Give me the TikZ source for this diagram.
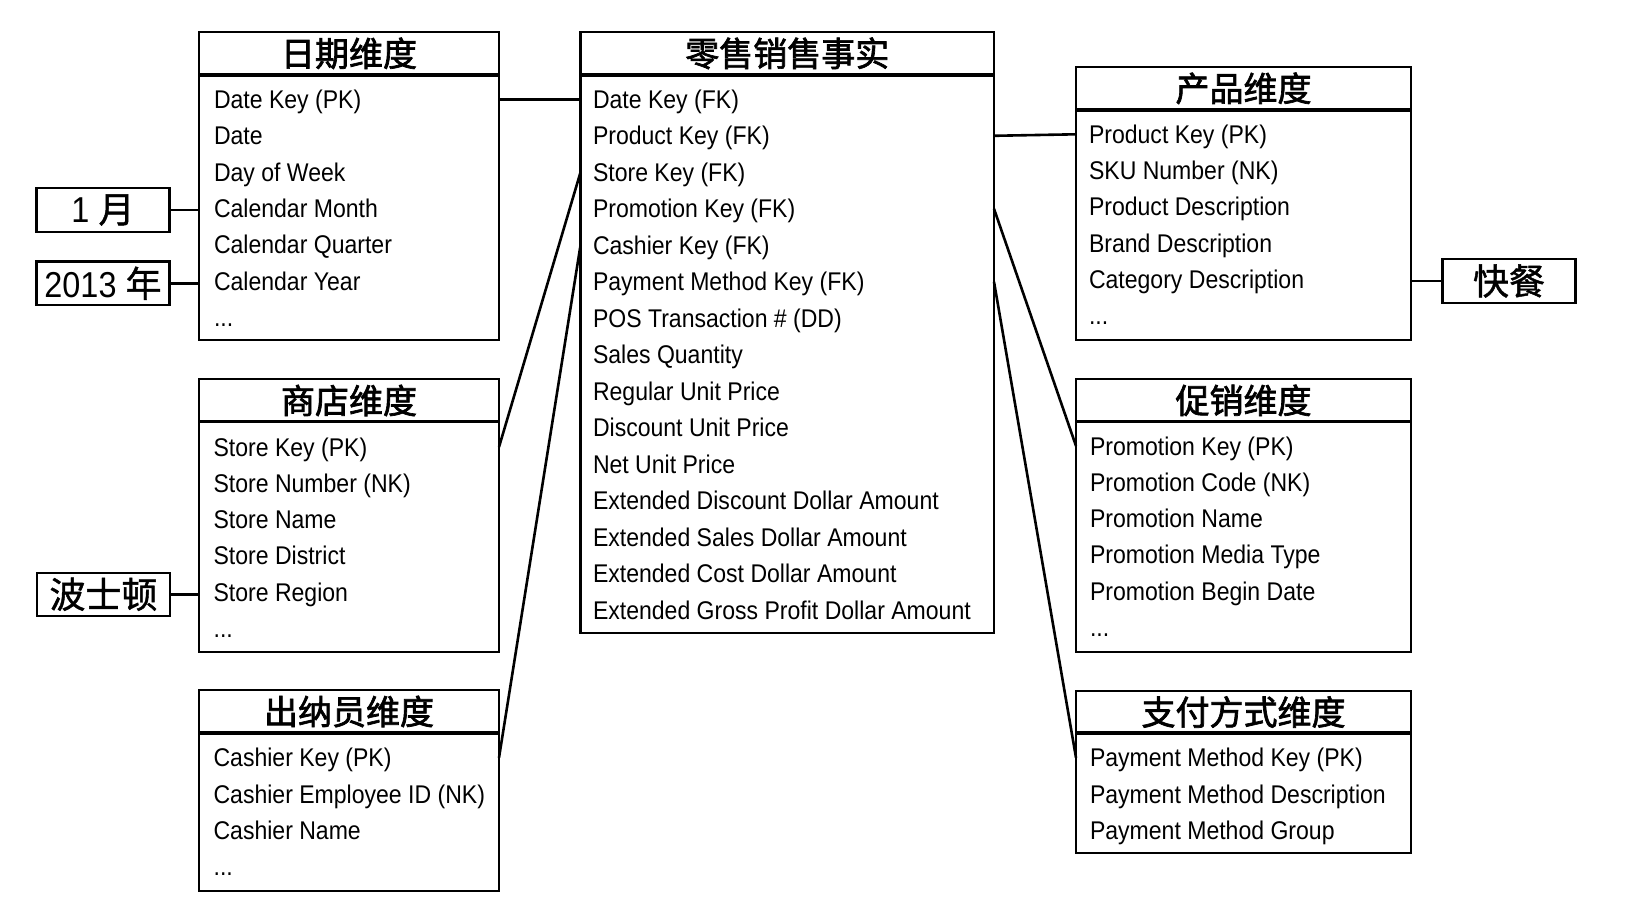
\documentclass[tikz,border=0pt]{standalone}
\usepackage{fontspec}
\setmainfont{Liberation Sans}[FakeStretch=0.9]
\newfontfamily\cjk{Noto Sans CJK SC}
\newfontfamily\cjkhead{Noto Sans CJK SC}[FakeBold=2]
\newfontfamily\cjktag{Noto Sans CJK SC}[FakeBold=1.2]
\newcommand\rowdots{...}
\begin{document}
\begin{tikzpicture}[x=0.5pt,y=-0.5pt,
  hdr/.style={draw, line width=1.1pt, anchor=north west, inner sep=0pt, outer sep=0pt,
    font=\cjkhead\fontsize{17}{20}\selectfont},
  body/.style={draw, line width=1.1pt, anchor=north west, inner sep=0pt, outer sep=0pt},
  row/.style={anchor=base west, inner sep=0pt, outer sep=0pt, text height=9pt, text depth=0pt,
    font=\fontsize{12.8}{15}\selectfont},
  tag/.style={draw, line width=1.1pt, inner sep=0pt, outer sep=0pt, minimum width=66.5pt,
    minimum height=21.7pt, font=\fontsize{18}{20}\selectfont},
  link/.style={line width=1.3pt},
  sepline/.style={line width=1.6pt}]
\fill[white] (0,0) rectangle (1626,898);
\useasboundingbox (0,0) rectangle (1626,898);

% ---------- Date dimension
\node[hdr, minimum width=150pt, minimum height=21.65pt] (dateH) at (199,31.7) {日期维度};
\node[body, minimum width=150pt, minimum height=132.5pt] (date) at (dateH.south west) {};
\draw[sepline] (dateH.south west) -- (dateH.south east);
\foreach \t [count=\i] in {Date Key (PK), Date, Day of Week, Calendar Month, Calendar Quarter, Calendar Year, \rowdots}
  \node[row] (d\i) at (214, {108.3+36.4*(\i-1)}) {\t};

% ---------- Fact table
\node[hdr, minimum width=206.75pt, minimum height=21.65pt] (factH) at (580.5,31.7) {零售销售事实};
\node[body, minimum width=206.75pt, minimum height=279pt] (fact) at (factH.south west) {};
\draw[sepline] (factH.south west) -- (factH.south east);
\foreach \t [count=\i] in {Date Key (FK), Product Key (FK), Store Key (FK), Promotion Key (FK),
  Cashier Key (FK), Payment Method Key (FK), POS Transaction \# (DD), Sales Quantity,
  Regular Unit Price, Discount Unit Price, Net Unit Price, Extended Discount Dollar Amount,
  Extended Sales Dollar Amount, Extended Cost Dollar Amount, Extended Gross Profit Dollar Amount}
  \node[row] (f\i) at (593, {108.3+36.5*(\i-1)}) {\t};

% ---------- Product dimension
\node[hdr, minimum width=167.5pt, minimum height=21.65pt] (prodH) at (1076,66.7) {产品维度};
\node[body, minimum width=167.5pt, minimum height=115pt] (prod) at (prodH.south west) {};
\draw[sepline] (prodH.south west) -- (prodH.south east);
\foreach \t [count=\i] in {Product Key (PK), SKU Number (NK), Product Description, Brand Description, Category Description, \rowdots}
  \node[row] (p\i) at (1089, {143.3+36.25*(\i-1)}) {\t};

% ---------- Store dimension
\node[hdr, minimum width=150pt, minimum height=21.2pt] (storeH) at (199,379.3) {商店维度};
\node[body, minimum width=150pt, minimum height=115pt] (store) at (storeH.south west) {};
\draw[sepline] (storeH.south west) -- (storeH.south east);
\foreach \t [count=\i] in {Store Key (PK), Store Number (NK), Store Name, Store District, Store Region, \rowdots}
  \node[row] (s\i) at (213.6, {456+36.25*(\i-1)}) {\t};

% ---------- Cashier dimension
\node[hdr, minimum width=150pt, minimum height=21.5pt] (cashH) at (199,690) {出纳员维度};
\node[body, minimum width=150pt, minimum height=79pt] (cash) at (cashH.south west) {};
\draw[sepline] (cashH.south west) -- (cashH.south east);
\foreach \t [count=\i] in {Cashier Key (PK), Cashier Employee ID (NK), Cashier Name, \rowdots}
  \node[row] (c\i) at (213.6, {766.7+36.3*(\i-1)}) {\t};

% ---------- Promotion dimension
\node[hdr, minimum width=167.5pt, minimum height=21.35pt] (promoH) at (1076,379) {促销维度};
\node[body, minimum width=167.5pt, minimum height=115pt] (promo) at (promoH.south west) {};
\draw[sepline] (promoH.south west) -- (promoH.south east);
\foreach \t [count=\i] in {Promotion Key (PK), Promotion Code (NK), Promotion Name, Promotion Media Type, Promotion Begin Date, \rowdots}
  \node[row] (m\i) at (1090, {455+36.25*(\i-1)}) {\t};

% ---------- Payment method dimension
\node[hdr, minimum width=167.5pt, minimum height=21pt] (payH) at (1076,691) {支付方式维度};
\node[body, minimum width=167.5pt, minimum height=60pt] (pay) at (payH.south west) {};
\draw[sepline] (payH.south west) -- (payH.south east);
\foreach \t [count=\i] in {Payment Method Key (PK), Payment Method Description, Payment Method Group}
  \node[row] (y\i) at (1090, {766.7+36.3*(\i-1)}) {\t};

% ---------- attribute value tags
\node[tag] (tMonth) at (103,210) {1 {\cjktag 月}};
\node[tag] (tYear) at (103,283.3) {2013 {\cjktag 年}};
\node[tag] (tCity) at (103.5,594.3) {\cjktag 波士顿};
\node[tag] (tFood) at (1509,281) {\cjktag 快餐};

\draw[link] (tMonth.east) -- (date.west |- tMonth.east);
\draw[link] (tYear.east) -- (date.west |- tYear.east);
\draw[link] (tCity.east) -- (store.west |- tCity.east);
\draw[link] (tFood.west) -- (prod.east |- tFood.west);

% ---------- connectors
\draw[link] (date.east |- d1.west) -- (fact.west |- f1.west);
\draw[link] (fact.east |- f2.west) -- (prod.west |- p1.west);
\draw[link] (fact.west |- f3.west) -- (store.east |- s1.west);
\draw[link] (fact.west |- f5.west) -- (cash.east |- c1.west);
\draw[link] (fact.east |- f4.west) -- (promo.west |- m1.west);
\draw[link] (fact.east |- f6.west) -- (pay.west |- y1.west);
\end{tikzpicture}
\end{document}
